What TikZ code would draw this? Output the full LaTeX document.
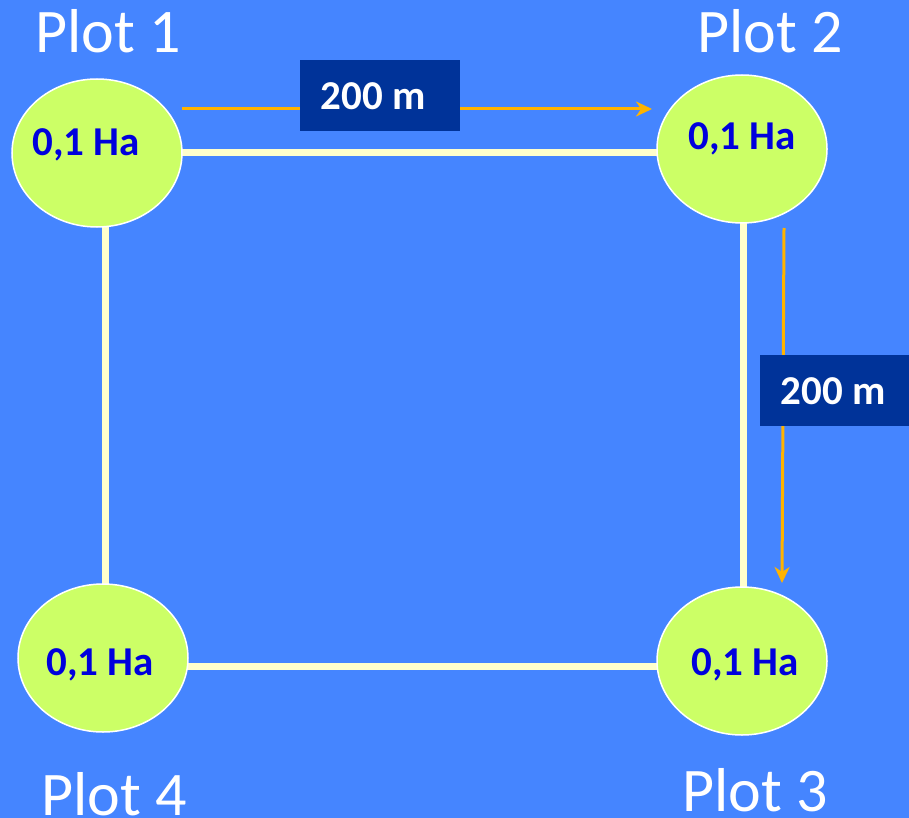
\documentclass[tikz,border=0pt]{standalone}
\usepackage{fontspec}
\setmainfont{Carlito}
\usetikzlibrary{shapes.geometric,arrows.meta}
\definecolor{sky}{HTML}{4585FF}
\definecolor{lime}{HTML}{CCFF66}
\definecolor{cream}{HTML}{FFFFCC}
\definecolor{amber}{HTML}{FFB300}
\definecolor{navy}{HTML}{003399}
\definecolor{areablue}{HTML}{0000DD}
\tikzset{
  plot/.style={ellipse, draw=white, line width=1.5pt, fill=lime,
    minimum width=170pt, minimum height=148pt, inner sep=0pt},
  area/.style={text=areablue, font=\fontsize{41}{41}\selectfont\bfseries, inner sep=0pt},
  plotname/.style={text=white, font=\fontsize{62}{62}\selectfont, anchor=base, inner sep=0pt},
  road/.style={cream, line width=7pt},
  measure/.style={amber, line width=3pt, -{Stealth[length=16pt,width=15pt,inset=5pt]}},
  distbox/.style={fill=navy, inner sep=0pt, minimum height=71pt},
  disttext/.style={text=white, font=\fontsize{41}{41}\selectfont\bfseries, inner sep=0pt},
}
\begin{document}
\begin{tikzpicture}[x=1pt,y=-1pt]
  % background
  \fill[sky] (0,0) rectangle (909,818);
  \useasboundingbox (0,0) rectangle (909,818);

  % plot positions
  \coordinate (c1) at (97,153);
  \coordinate (c2) at (742,149);
  \coordinate (c3) at (742,661);
  \coordinate (c4) at (103,658);

  % roads joining the plots
  \coordinate (r1) at (105,153);
  \coordinate (r2) at (743,153);
  \coordinate (r3) at (743,666);
  \coordinate (r4) at (105,666);
  \draw[road] (r1) -- (r2) -- (r3) -- (r4) -- cycle;

  % plots
  \node[plot] (e1) at (c1) {};
  \node[plot] (e2) at (c2) {};
  \node[plot] (e3) at (c3) {};
  \node[plot] (e4) at (c4) {};

  \node[area] (a1) at (86,145) {0,1 Ha};
  \node[area] (a2) at (742,139) {0,1 Ha};
  \node[area] (a3) at (745,665) {0,1 Ha};
  \node[area] (a4) at (100,665) {0,1 Ha};

  % plot names
  \node[plotname] (n1) at (108,53) {Plot 1};
  \node[plotname] (n2) at (770,53) {Plot 2};
  \node[plotname] (n3) at (755,811) {Plot 3};
  \node[plotname] (n4) at (114,815) {Plot 4};

  % distance arrows
  \coordinate (h0) at (182,109);
  \coordinate (h1) at (652,109);
  \draw[measure] (h0) -- (h1);
  \coordinate (v0) at (784,228);
  \coordinate (v1) at (782,583);
  \draw[measure] (v0) -- (v1);

  % distance labels
  \node[distbox, minimum width=160pt] (d1) at (380,95.5) {};
  \node[disttext] (t1) at (373,96.5) {200 m};
  \node[distbox, minimum width=149pt] (d2) at (834.5,390.5) {};
  \node[disttext] (t2) at (833,391.5) {200 m};
\end{tikzpicture}
\end{document}
